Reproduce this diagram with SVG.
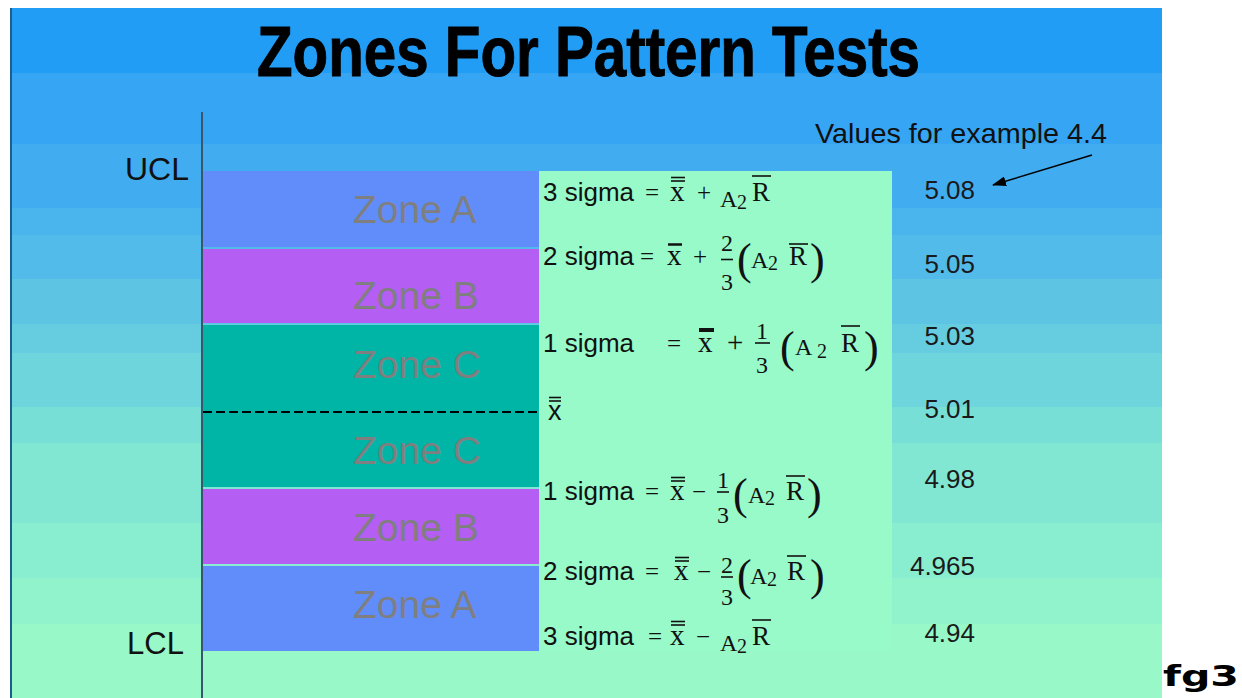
<svg xmlns="http://www.w3.org/2000/svg" width="1242" height="698" viewBox="0 0 1242 698">
<style>
.s{font-family:"Liberation Sans",Arial,sans-serif;fill:#111}
.f{font-family:"Liberation Sans",Arial,sans-serif;font-size:26px;fill:#111}
.m{font-family:"Liberation Serif","Times New Roman",serif;fill:#111}
.eq{font-size:25px}
.v{font-size:29px}
.r{font-size:27px}
.a{font-size:24px}
.sub{font-size:20px}
.fr{font-size:24px;text-anchor:middle}
.p{font-size:44px}
.bar{stroke:#111;stroke-width:1.6}
.zt{font-family:"Liberation Sans",Arial,sans-serif;font-size:39px;fill:#7f7f7f}
.val{font-family:"Liberation Sans",Arial,sans-serif;font-size:26px;fill:#1a1a1a;text-anchor:end}
</style>
<defs>
<marker id="ah" markerWidth="14" markerHeight="10" refX="13" refY="5" orient="auto" markerUnits="userSpaceOnUse">
<path d="M0,0 L14,5 L0,10 Z" fill="#000"/>
</marker>
</defs>
<rect width="1242" height="698" fill="#fff"/>
<g id="background">
<rect x="11" y="8" width="1151" height="66" fill="#229df6"/>
<rect x="11" y="73" width="1151" height="72" fill="#36a6f4"/>
<rect x="11" y="144" width="1151" height="65" fill="#41adf0"/>
<rect x="11" y="208" width="1151" height="28" fill="#4ab5ed"/>
<rect x="11" y="235" width="1151" height="45" fill="#52bbea"/>
<rect x="11" y="279" width="1151" height="46" fill="#5dc4e4"/>
<rect x="11" y="324" width="1151" height="30" fill="#66cde0"/>
<rect x="11" y="353" width="1151" height="55" fill="#6fd5dc"/>
<rect x="11" y="407" width="1151" height="37" fill="#78dfd7"/>
<rect x="11" y="443" width="1151" height="81" fill="#81e7d3"/>
<rect x="11" y="523" width="1151" height="56" fill="#89eecf"/>
<rect x="11" y="578" width="1151" height="47" fill="#91f3cc"/>
<rect x="11" y="624" width="1151" height="74" fill="#98f8c8"/>
<line x1="11" y1="8" x2="11" y2="698" stroke="#1b5f8e" stroke-width="2"/>
</g>
<g id="title">
<text x="257" y="76" font-family="'Liberation Sans',Arial,sans-serif" font-size="71" font-weight="bold" fill="#000" stroke="#000" stroke-width="1" textLength="663" lengthAdjust="spacingAndGlyphs">Zones For Pattern Tests</text>
</g>
<g id="axis">
<line x1="202" y1="112" x2="202" y2="698" stroke="#3a566a" stroke-width="2"/>
<text x="125" y="180" class="s" font-size="32">UCL</text>
<text x="127" y="654" class="s" font-size="31">LCL</text>
</g>
<g id="zones">
<g id="zoneA-top"><rect x="203" y="171" width="336" height="76" fill="#618dfb"/><text x="353" y="223" class="zt">Zone A</text></g>
<g id="zoneB-top"><rect x="203" y="249" width="336" height="74" fill="#b45ef3"/><text x="353" y="309" class="zt">Zone B</text></g>
<g id="zoneC-top"><rect x="203" y="325" width="336" height="87" fill="#00b4a6"/><text x="353" y="378" class="zt">Zone C</text></g>
<g id="zoneC-bottom"><rect x="203" y="412" width="336" height="75" fill="#00b4a6"/><text x="353" y="464" class="zt">Zone C</text></g>
<g id="zoneB-bottom"><rect x="203" y="489" width="336" height="75" fill="#b45ef3"/><text x="353" y="541" class="zt">Zone B</text></g>
<g id="zoneA-bottom"><rect x="203" y="566" width="336" height="85" fill="#618dfb"/><text x="353" y="618" class="zt">Zone A</text></g>
</g>
<g id="formula-box">
<rect x="539" y="171" width="353" height="480" fill="#98f9c9"/>
</g>
<g id="formula-3sigma-up">
<text x="543" y="201" class="f">3 sigma</text>
<text x="645" y="201" class="m eq">=</text>
<text x="670" y="201" class="m v">x</text>
<line x1="671" y1="177.5" x2="685" y2="177.5" class="bar"/><line x1="671" y1="181" x2="685" y2="181" class="bar"/>
<text x="697" y="201" class="m eq">+</text>
<text x="720" y="207" class="m a">A</text><text x="737" y="209" class="m sub">2</text>
<text x="752" y="201" class="m r">R</text>
<line x1="752" y1="176" x2="771" y2="176" class="bar"/>
</g>
<g id="formula-2sigma-up">
<text x="543" y="265" class="f">2 sigma</text>
<text x="640" y="265" class="m eq">=</text>
<text x="667" y="265" class="m v">x</text>
<line x1="668" y1="244.5" x2="682" y2="244.5" stroke="#111" stroke-width="2.5"/>
<text x="693" y="265" class="m eq">+</text>
<text x="727" y="251" class="m fr">2</text>
<line x1="721" y1="259.5" x2="733" y2="259.5" class="bar"/>
<text x="727" y="290" class="m fr">3</text>
<text x="737" y="274" class="m p">(</text>
<text x="751" y="268" class="m a">A</text><text x="768" y="270" class="m sub">2</text>
<text x="789" y="265" class="m r">R</text>
<line x1="789" y1="244" x2="808" y2="244" class="bar"/>
<text x="810" y="274" class="m p">)</text>
</g>
<g id="formula-1sigma-up">
<text x="543" y="352" class="f">1 sigma</text>
<text x="667" y="352" class="m eq">=</text>
<text x="698" y="352" class="m v">x</text>
<line x1="699" y1="330" x2="714" y2="330" stroke="#111" stroke-width="4"/>
<text x="727" y="352" class="m v">+</text>
<text x="762" y="339" class="m fr">1</text>
<line x1="755" y1="343" x2="770" y2="343" class="bar"/>
<text x="762" y="373" class="m fr">3</text>
<text x="780" y="362" class="m p">(</text>
<text x="795" y="355" class="m a">A</text><text x="817" y="358" class="m sub">2</text>
<text x="841" y="352" class="m r">R</text>
<line x1="841" y1="326" x2="860" y2="326" class="bar"/>
<text x="864" y="362" class="m p">)</text>
</g>
<g id="formula-mean">
<text x="548" y="420" class="s" font-size="27">x</text>
<line x1="549" y1="397.5" x2="561" y2="397.5" class="bar"/><line x1="549" y1="401" x2="561" y2="401" class="bar"/>
</g>
<g id="formula-1sigma-down">
<text x="543" y="500" class="f">1 sigma</text>
<text x="645" y="500" class="m eq">=</text>
<text x="670" y="500" class="m v">x</text>
<line x1="671" y1="477.5" x2="685" y2="477.5" class="bar"/><line x1="671" y1="481" x2="685" y2="481" class="bar"/>
<text x="692" y="500" class="m eq">−</text>
<text x="723" y="488" class="m fr">1</text>
<line x1="717" y1="492" x2="729" y2="492" class="bar"/>
<text x="723" y="523" class="m fr">3</text>
<text x="733" y="509" class="m p">(</text>
<text x="748" y="503" class="m a">A</text><text x="765" y="505" class="m sub">2</text>
<text x="786" y="500" class="m r">R</text>
<line x1="786" y1="476" x2="805" y2="476" class="bar"/>
<text x="807" y="509" class="m p">)</text>
</g>
<g id="formula-2sigma-down">
<text x="543" y="580" class="f">2 sigma</text>
<text x="645" y="580" class="m eq">=</text>
<text x="674" y="580" class="m v">x</text>
<line x1="675" y1="557.5" x2="689" y2="557.5" class="bar"/><line x1="675" y1="561" x2="689" y2="561" class="bar"/>
<text x="697" y="580" class="m eq">−</text>
<text x="727" y="573" class="m fr">2</text>
<line x1="721" y1="577" x2="733" y2="577" class="bar"/>
<text x="727" y="605" class="m fr">3</text>
<text x="737" y="590" class="m p">(</text>
<text x="750" y="584" class="m a">A</text><text x="767" y="586" class="m sub">2</text>
<text x="787" y="580" class="m r">R</text>
<line x1="787" y1="556" x2="806" y2="556" class="bar"/>
<text x="810" y="590" class="m p">)</text>
</g>
<g id="formula-3sigma-down">
<text x="543" y="645" class="f">3 sigma</text>
<text x="648" y="645" class="m eq">=</text>
<text x="670" y="645" class="m v">x</text>
<line x1="671" y1="621.5" x2="685" y2="621.5" class="bar"/><line x1="671" y1="625" x2="685" y2="625" class="bar"/>
<text x="696" y="645" class="m eq">−</text>
<text x="720" y="651" class="m a">A</text><text x="737" y="653" class="m sub">2</text>
<text x="752" y="645" class="m r">R</text>
<line x1="752" y1="620" x2="771" y2="620" class="bar"/>
</g>
<g id="values">
<text x="815" y="143" class="s" font-size="28" textLength="292" lengthAdjust="spacingAndGlyphs">Values for example 4.4</text>
<text x="975" y="199" class="val">5.08</text>
<text x="975" y="273" class="val">5.05</text>
<text x="975" y="345" class="val">5.03</text>
<text x="975" y="418" class="val">5.01</text>
<text x="975" y="488" class="val">4.98</text>
<text x="975" y="575" class="val">4.965</text>
<text x="975" y="642" class="val">4.94</text>
</g>
<g id="connectors">
<line x1="1092" y1="155" x2="993" y2="185" stroke="#000" stroke-width="1.5" marker-end="url(#ah)"/>
<line x1="203" y1="412" x2="539" y2="412" stroke="#000" stroke-width="2" stroke-dasharray="9 4"/>
</g>
<g id="caption">
<text x="1163" y="686" font-family="'DejaVu Sans',sans-serif" font-weight="bold" font-size="28" fill="#000" textLength="76" lengthAdjust="spacingAndGlyphs">fg3</text>
</g>
</svg>
